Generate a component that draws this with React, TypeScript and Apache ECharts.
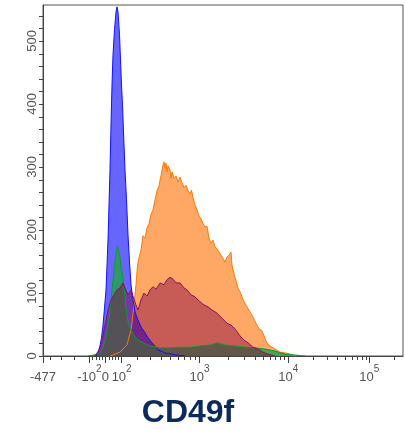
import React, { useEffect, useRef } from "react";
import * as echarts from "echarts";

// ---- data (display channel 0..360 on a logicle scale, counts) ----
const blueData: number[][] = [
  [53, 0], [55, 5], [57, 16], [58.5, 29], [60, 49], [61.5, 76], [63, 105], [64, 144], [65, 184],
  [66, 240], [67, 295], [68, 367], [69, 430], [70, 478], [71.5, 518], [73, 546], [74, 554],
  [75, 546], [76.5, 510], [77.5, 470], [78.5, 430], [79.5, 398], [81, 335], [82, 295],
  [83.5, 248], [85, 192], [86.5, 149], [88, 113], [90, 89], [92, 70], [94.5, 59], [98, 46],
  [102, 37], [105, 29], [109, 21], [115, 10], [122, 5], [132, 2], [142, 0],
];
const greenData: number[][] = [
  [45, 0], [52, 2], [57, 5], [60, 13], [62, 25], [64, 41], [66.3, 62], [68, 89], [69.5, 113],
  [71.3, 141], [72.5, 157], [74.3, 175], [75.5, 168], [77, 156], [78, 141], [79.7, 129],
  [81.3, 105], [83.7, 65], [85.5, 52], [88, 41], [91, 32], [95, 25], [100, 21], [107, 16],
  [117, 13], [127, 13], [137, 14], [147, 14], [157, 16], [167, 17.5], [174, 21], [182, 17.5],
  [192, 16], [202, 14], [212, 13], [222, 11], [232, 8], [242, 3], [252, 1.6], [262, 0],
];
const orangeData: number[][] = [
  [67, 0], [77, 6], [84, 18], [88, 41], [91, 81], [93, 113], [94.5, 144], [96, 156], [98, 168],
  [100, 191], [102, 187], [104, 203], [106, 210], [108, 225], [110, 232], [112, 248], [114, 262],
  [116, 270], [117, 279], [118, 286], [119, 295], [120, 303], [121, 308], [122, 298], [123, 306],
  [124, 292], [125, 302], [127, 295], [128, 282], [129, 292], [131, 282], [133, 286], [135, 276],
  [137, 284], [139, 275], [141, 267], [143, 271], [145, 263], [147, 257], [148.5, 263], [150, 251],
  [152, 240], [154, 232], [156, 222], [158, 218], [160, 210], [162, 205], [164, 206], [166, 187],
  [168, 179], [170, 184], [172, 173], [174, 170], [176, 165], [178, 160], [180, 155], [182, 149],
  [184, 157], [186, 160], [188, 165], [189, 144], [191, 130], [193, 119], [195, 108], [197, 102],
  [199, 94], [201, 86], [204, 78], [207, 70], [210, 62], [213, 52], [216, 43], [219, 40],
  [221, 32], [223, 24], [225, 19], [227, 16], [230, 13], [233, 10], [237, 6], [242, 5],
  [247, 3], [253, 0],
];
const redData: number[][] = [
  [52, 0], [56, 9.5], [59, 25], [62, 49], [65, 73], [68, 89], [71, 97], [74, 105], [77, 108],
  [80, 116], [82, 108], [85, 97], [88, 105], [90, 95], [93, 81], [95, 73], [98, 89], [101, 100],
  [104, 95], [107, 105], [110, 110], [113, 106], [117, 116], [121, 113], [124, 121], [127, 125],
  [130, 122], [133, 116], [137, 116], [141, 108], [144, 105], [148, 97], [152, 94], [157, 86],
  [161, 81], [165, 78], [169, 73], [174, 68], [179, 60], [184, 52], [188, 49], [192, 43],
  [197, 32], [201, 25], [205, 21], [210, 14], [215, 11], [220, 6], [225, 3], [232, 0],
];

const yLabelValues = [0, 100, 200, 300, 400, 500];
const yMinorTickValues = [
  20, 40, 60, 80, 120, 140, 160, 180, 220, 240, 260, 280, 320, 340, 360, 380,
  420, 440, 460, 480, 520, 540,
];
const xMajorValues = [-477, -100, 0, 100, 1000, 10000, 100000];
const xMajorLabels: [string, string][] = [
  ["-477", ""], ["-10", "2"], ["0", ""], ["10", "2"], ["10", "3"], ["10", "4"], ["10", "5"],
];
const xMinorValues = [
  -400, -300, -200, -80, -60, -40, -20, 20, 40, 60, 80,
  200, 300, 400, 500, 600, 700, 800, 900,
  2000, 3000, 4000, 5000, 6000, 7000, 8000, 9000,
  20000, 30000, 40000, 50000, 60000, 70000, 80000, 90000, 200000,
];
const axisTitle = "CD49f";

// ---- logicle transform (T, M, W) -> display channel ----
const LOGICLE_T = 262144;
const LOGICLE_M = 4.5;
const LOGICLE_W = 0.781;
const CHANNELS = 360;
const Y_MAX = 557;

function makeLogicle(T: number, M: number, W: number) {
  const ln10 = Math.log(10);
  const m = M * ln10;
  const w = W * ln10;
  let lo = 1.0000001, hi = 100;
  for (let i = 0; i < 200; i++) {
    const p = (lo + hi) / 2;
    const f = (2 * p * Math.log(p)) / (p + 1);
    if (f < w) lo = p; else hi = p;
  }
  const p = (lo + hi) / 2;
  const K = T * Math.exp(-(m - w));
  const S = (y: number): number => {
    const x = y * m;
    if (x >= w) return K * (Math.exp(x - w) - p * p * Math.exp(-(x - w) / p) + p * p - 1);
    return -S((2 * w) / m - y);
  };
  return (v: number) => {
    let a = -0.5, b = 1.5;
    for (let i = 0; i < 100; i++) {
      const mid = (a + b) / 2;
      if (S(mid) < v) a = mid; else b = mid;
    }
    return Math.max(0, Math.min(1, (a + b) / 2)) * CHANNELS;
  };
}
const logicle = makeLogicle(LOGICLE_T, LOGICLE_M, LOGICLE_W);

const FONT = "'Liberation Sans', Arial, sans-serif";
const AXIS_COLOR = "#444";

export default function App() {
  const ref = useRef<HTMLDivElement>(null);
  useEffect(() => {
    if (!ref.current) return;
    const chart = echarts.init(ref.current, undefined, { renderer: "svg" });
    const majorPos = xMajorValues.map(logicle);
    const minorPos = xMinorValues.map(logicle);
    const labelFor = (val: number) => {
      let best = 0;
      for (let i = 1; i < majorPos.length; i++) {
        if (Math.abs(majorPos[i] - val) < Math.abs(majorPos[best] - val)) best = i;
      }
      const [b, e] = xMajorLabels[best];
      return e ? `{n|${b}}{s|${e}}` : `{n|${b}}`;
    };
    const labelColor = "#555";
    const mk = (name: string, data: number[][], line: string, fill: string) => ({
      type: "line",
      name,
      data,
      symbol: "none",
      showSymbol: false,
      silent: true,
      lineStyle: { color: line, width: 1 },
      areaStyle: { color: fill, opacity: 1 },
    });
    // minor ticks, mapped with the same linear axis ranges used by the chart
    const gridLeft = 43, gridRight = 2, gridTop = 5, gridBottom = 75;
    const W = 405 - gridLeft - gridRight;
    const H = 431 - gridTop - gridBottom;
    const tickLines: any[] = [];
    minorPos.forEach((v) => {
      const x = Math.round(gridLeft + (v / CHANNELS) * W) + 0.5;
      const y0 = gridTop + H;
      tickLines.push({
        type: "line", silent: true, z: 100,
        shape: { x1: x, y1: y0, x2: x, y2: y0 + 4 },
        style: { stroke: AXIS_COLOR, lineWidth: 1 },
      });
    });
    yMinorTickValues.forEach((v) => {
      const y = Math.round(gridTop + H - (v / Y_MAX) * H) + 0.5;
      tickLines.push({
        type: "line", silent: true, z: 100,
        shape: { x1: gridLeft - 4, y1: y, x2: gridLeft, y2: y },
        style: { stroke: AXIS_COLOR, lineWidth: 1 },
      });
    });
    chart.setOption({
      animation: false,
      grid: {
        left: gridLeft, right: gridRight, top: gridTop, bottom: gridBottom,
        show: true, borderColor: "#555", borderWidth: 1, backgroundColor: "transparent",
      },
      xAxis: {
        type: "value", min: 0, max: CHANNELS, position: "bottom",
        axisLine: { show: true, lineStyle: { color: AXIS_COLOR } },
        axisTick: { show: true, customValues: majorPos, length: 7, lineStyle: { color: AXIS_COLOR } },
        axisLabel: {
          show: true, customValues: majorPos, margin: 7, formatter: labelFor,
          rich: {
            n: { fontSize: 13, fontFamily: FONT, color: labelColor, lineHeight: 20, verticalAlign: "bottom" },
            s: { fontSize: 10, fontFamily: FONT, color: labelColor, lineHeight: 10, verticalAlign: "top" },
          },
        },
        splitLine: { show: false },
      },
      yAxis: {
        type: "value", min: 0, max: Y_MAX, position: "left",
        axisLine: { show: true, lineStyle: { color: AXIS_COLOR } },
        axisTick: { show: true, customValues: yLabelValues, length: 4, lineStyle: { color: AXIS_COLOR } },
        axisLabel: {
          show: true, customValues: yLabelValues, rotate: 90, margin: 5,
          fontSize: 13, fontFamily: FONT, color: labelColor,
        },
        splitLine: { show: false },
      },
      series: [
        mk("orange", orangeData, "#ff7800", "rgba(255,110,0,0.6)"),
        mk("blue", blueData, "#1010ff", "rgba(0,0,255,0.6)"),
        mk("green", greenData, "#109a30", "rgba(40,160,80,0.85)"),
        mk("red", redData, "#8a1060", "rgba(128,0,64,0.45)"),
      ],
      graphic: [
        {
          type: "text", x: 188, y: 411,
          style: {
            text: axisTitle, fontSize: 32, fontWeight: "bold", fontFamily: FONT,
            fill: "#0d2a5e", textAlign: "center", textVerticalAlign: "middle",
          },
        },
        ...tickLines,
      ],
    });
    return () => chart.dispose();
  }, []);
  return <div ref={ref} style={{ position: "fixed", left: 0, top: 0, width: 405, height: 431 }} />;
}
